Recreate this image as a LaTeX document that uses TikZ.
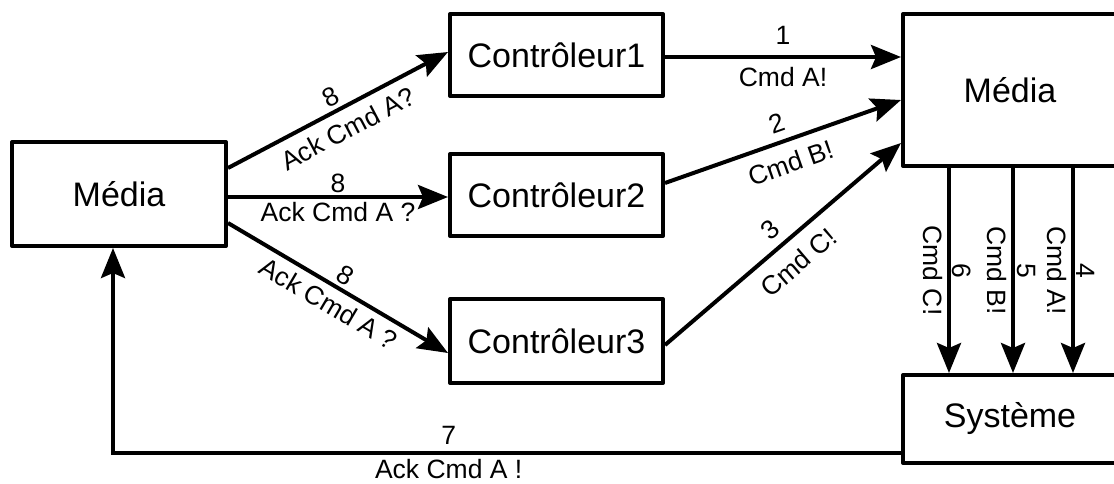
\documentclass[tikz,border=0pt]{standalone}
\usepackage{fontspec}
\setmainfont{Liberation Sans}
\usetikzlibrary{arrows.meta,calc}
\begin{document}
\begin{tikzpicture}[x=1pt,y=-1pt,
  box/.style={draw,line width=4pt,line join=round,inner sep=0pt,font=\fontsize{34}{40}\selectfont},
  conn/.style={line width=4pt,-{Stealth[length=30pt,width=24pt,inset=5pt]}},
  lbl/.style={font=\fontsize{26.5}{30}\selectfont,inner sep=0pt,anchor=center}]
\useasboundingbox (0,0) rectangle (1114,483);
\node[box,minimum width=214pt,minimum height=104pt] (lm) at (119,194) {Média};
\node[box,minimum width=213pt,minimum height=82pt] (c1) at (556.5,55) {Contrôleur1};
\node[box,minimum width=213pt,minimum height=82pt] (c2) at (556.5,195) {Contrôleur2};
\node[box,minimum width=213pt,minimum height=84pt] (c3) at (556.5,341) {Contrôleur3};
\node[box,minimum width=260pt,minimum height=152pt] (rm) at (1033,90) {Média\hspace*{46pt}};
\node[box,minimum width=260pt,minimum height=88pt] (sys) at (1033,419) {Système\hspace*{46pt}};

\draw[conn] ($(c1.east)+(0,2)$) -- ($(c1.east -| rm.west)+(0,2)$)
  node[midway,lbl,yshift=22pt]{1} node[midway,lbl,yshift=-20pt]{Cmd A!};
\draw[conn] ($(c2.east)+(0,-12)$) -- ($(rm.west)+(0,10)$)
  node[midway,sloped,lbl,yshift=19.7pt]{2} node[midway,sloped,lbl,yshift=-22.8pt]{Cmd B!};
\draw[conn] ($(c3.east)+(0,4)$) -- ($(rm.west)+(0,53)$)
  node[midway,sloped,lbl,yshift=19pt]{3} node[midway,sloped,lbl,yshift=-24pt]{Cmd C!};

\draw[conn] ($(lm.east)+(0,-26)$) -- ($(c1.west)+(0,-3)$)
  node[midway,sloped,lbl,yshift=15pt]{8} node[midway,sloped,lbl,yshift=-21pt]{Ack Cmd A?};
\draw[conn] ($(lm.east)+(0,3)$) -- ($(c2.west)+(0,2)$)
  node[midway,lbl,yshift=13.5pt]{8} node[midway,lbl,yshift=-15.5pt]{Ack Cmd A ?};
\draw[conn] ($(lm.east)+(0,29)$) -- ($(c3.west)+(0,12)$)
  node[midway,sloped,lbl,yshift=14.3pt]{8} node[midway,sloped,lbl,yshift=-18pt]{Ack Cmd A ?};

\foreach \dx/\n/\t in {48/6/Cmd C!,112/5/Cmd B!,172/4/Cmd A!} {
  \draw[conn] ($(rm.south west)+(\dx,0)$) coordinate (s\n) -- ($(sys.north west)+(\dx,0)$) coordinate (e\n);
  \node[lbl,rotate=-90] (n\n) at ($(s\n)!0.5!(e\n)+(13,0)$) {\n};
  \node[lbl,rotate=-90] (t\n) at ($(s\n)!0.5!(e\n)+(-16,0)$) {\t};
}

\draw[conn] ($(sys.west)+(0,34)$) -| ($(lm.south)+(-6,0)$)
  node[pos=0.287,lbl,yshift=18pt]{7} node[pos=0.287,lbl,yshift=-16.5pt]{Ack Cmd A !};
\end{tikzpicture}
\end{document}
